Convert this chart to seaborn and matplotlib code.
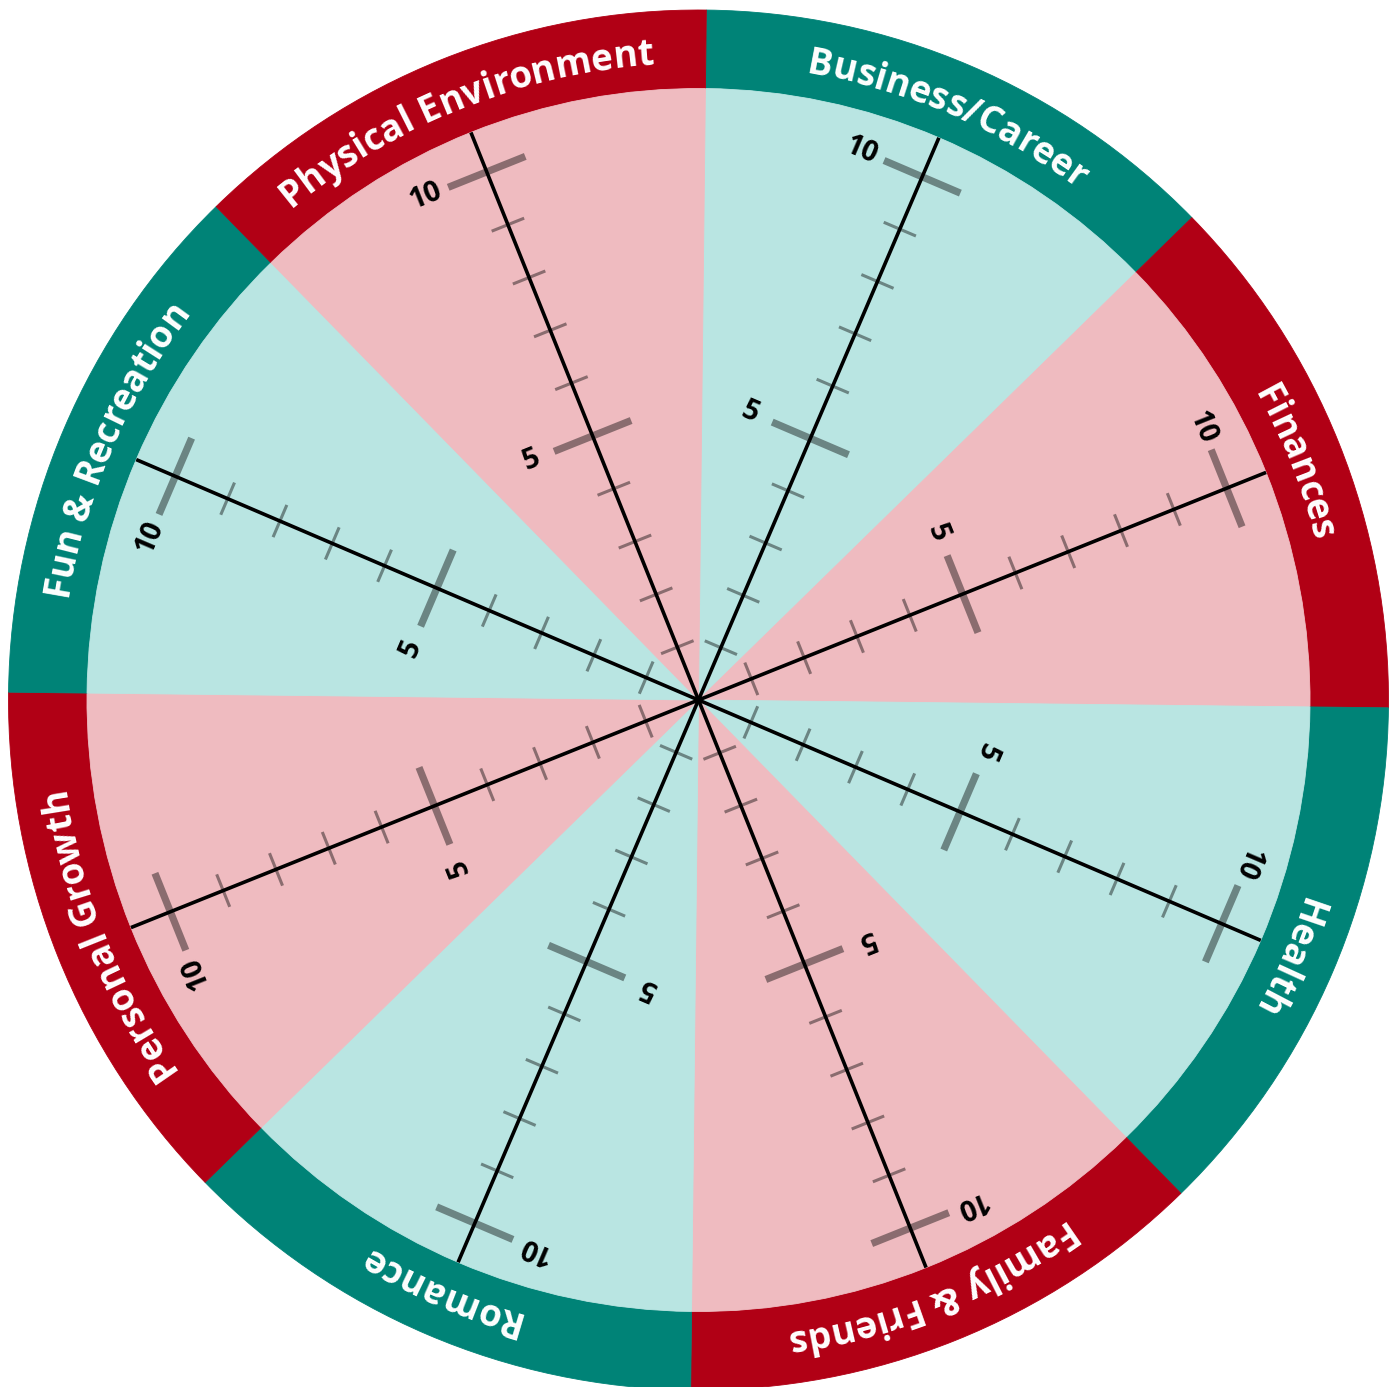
import numpy as np
import matplotlib
matplotlib.use("Agg")
import matplotlib.pyplot as plt
from matplotlib.patches import Wedge
from matplotlib import font_manager
from matplotlib.backends.backend_agg import get_hinting_flag
import seaborn as sns

# Wheel of life: 8 areas, each scored on a 1-10 scale
categories = ["Business/Career", "Finances", "Health", "Family & Friends",
              "Romance", "Personal Growth", "Fun & Recreation", "Physical Environment"]
scale_values = list(range(1, 11))
major_values = [5, 10]

sns.set_theme(style="white")
plt.rcParams['font.family'] = ['Open Sans', 'DejaVu Sans']

ring_palette = sns.color_palette(["#008377", "#b10015"])
fill_palette = sns.color_palette(["#b9e5e2", "#efbbc0"])

# geometry (pixels, centre of wheel at origin)
R_IN = 611.5
R_OUT = 690
R_TEXT = 637
STEP = 56.9
START = 89.35   # top boundary of first sector, degrees

fig = plt.figure(figsize=(13.98, 13.87), dpi=100)
ax = fig.add_axes([0, 0, 1, 1])
ax.set_xlim(-698.5, 699.5)
ax.set_ylim(-687, 700)
ax.axis('off')

label_fp = font_manager.FontProperties(family=['Open Sans', 'DejaVu Sans'], weight='bold', size=26.6)
renderer = fig.canvas.get_renderer()


def text_w(s):
    w, h, d = renderer.get_text_width_height_descent(s, label_fp, ismath=False)
    return w


def glyph_offset(ch):
    # Agg adds the glyph's left bearing without rotating it; measure it to undo that
    font = renderer._prepare_font(label_fp)
    font.set_text(ch, 0, flags=get_hinting_flag())
    return font.get_bitmap_offset()[0] / 64.0


def curved_label(s, centre_deg):
    base = text_w("x")
    starts = [text_w(s[:i] + "x") - base if i > 0 else 0.0 for i in range(len(s) + 1)]
    total = starts[-1]
    for i, ch in enumerate(s):
        if ch == " ":
            continue
        m = (starts[i] + starts[i + 1]) / 2
        th = np.radians(centre_deg) + (total / 2 - m) / R_TEXT
        rot = th - np.pi / 2
        xo = glyph_offset(ch)
        x = R_TEXT * np.cos(th) + xo * (np.cos(rot) - 1)
        y = R_TEXT * np.sin(th) + xo * np.sin(rot)
        ax.text(x, y, ch, fontproperties=label_fp, color="white",
                rotation=np.degrees(rot), rotation_mode='anchor',
                ha='center', va='baseline', zorder=6)


for i, name in enumerate(categories):
    t2 = START - 45 * i
    t1 = t2 - 45
    ring_c = ring_palette[i % 2]
    fill_c = fill_palette[i % 2]
    ax.add_patch(Wedge((0, 0), R_OUT, t1, t2, width=R_OUT - R_IN,
                       facecolor=ring_c, edgecolor=ring_c, lw=0.6, zorder=1))
    ax.add_patch(Wedge((0, 0), R_IN, t1, t2,
                       facecolor=fill_c, edgecolor=fill_c, lw=0.6, zorder=1))

    a = np.radians(t2 - 22.5)
    u = np.array([np.cos(a), np.sin(a)])
    p = np.array([-np.sin(a), np.cos(a)])

    # spoke
    ax.plot([0, R_IN * u[0]], [0, R_IN * u[1]], color="black", lw=2.6,
            solid_capstyle='butt', zorder=4)

    # scale ticks
    for v in scale_values:
        c = v * STEP * u
        major = v in major_values
        half = 41.5 if major else 17.5
        ax.plot([c[0] - half * p[0], c[0] + half * p[0]],
                [c[1] - half * p[1], c[1] + half * p[1]],
                color="black", alpha=0.42, lw=5.2 if major else 2.2,
                solid_capstyle='butt', zorder=3)
        if major:
            pos = c + 66 * p
            ax.text(pos[0], pos[1], str(v), fontsize=20.5, fontweight='bold',
                    color="black", rotation=np.degrees(a) - 90,
                    rotation_mode='anchor', ha='center', va='center', zorder=5)

    curved_label(name, t2 - 22.5)

fig.savefig("out.png", dpi=100)
